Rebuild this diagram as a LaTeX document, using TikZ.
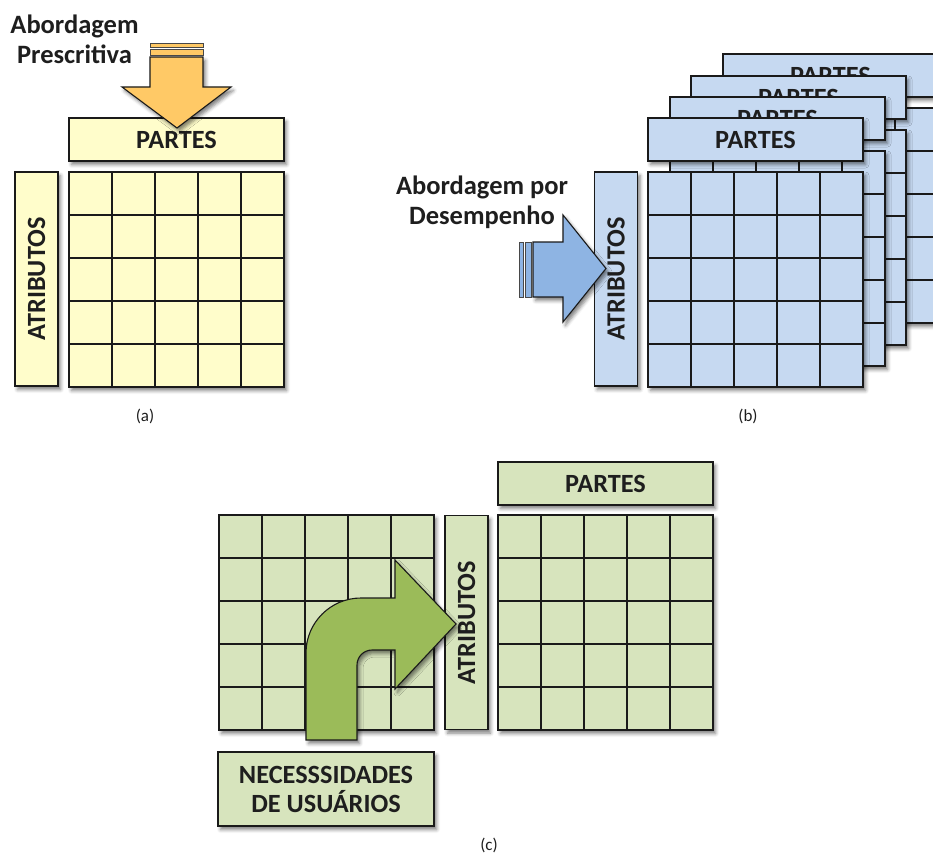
\documentclass[tikz,border=0pt]{standalone}
\usepackage{fontspec}
\setmainfont{Carlito}
\usetikzlibrary{shadows.blur}

\definecolor{edge}{HTML}{1A1A1A}
\definecolor{ink}{HTML}{1E1E1E}
\definecolor{ylw}{HTML}{FFFDCB}
\definecolor{ylwarrow}{HTML}{FFC966}
\definecolor{blu}{HTML}{C6D9F1}
\definecolor{bluarrow}{HTML}{8EB4E3}
\definecolor{grn}{HTML}{D7E4BD}
\definecolor{grnarrow}{HTML}{9BBB59}

\tikzset{
  softshadow/.style={blur shadow={shadow xshift=2.5pt, shadow yshift=-3.5pt,
      shadow blur radius=3.5pt, shadow opacity=50}},
  labelbox/.style={draw=edge, line width=1.6pt, softshadow, text=ink, inner sep=0pt,
      font=\bfseries\fontsize{26.3}{29}\selectfont},
  headbox/.style={labelbox, minimum width=215pt, minimum height=43pt},
  attrbox/.style={labelbox, rotate=90, minimum width=214pt, minimum height=43pt},
  tableline/.style={draw=edge, line width=1.6pt},
  arrowbody/.style={draw=edge, line width=1.1pt, softshadow, line join=miter},
  tailband/.style={draw=edge!80, line width=0.9pt},
  headline/.style={text=ink, align=center, font=\bfseries\fontsize{26.5}{30}\selectfont},
  partlabel/.style={text=ink, font=\fontsize{17}{20}\selectfont}
}

% 5 x 5 table of 43pt cells, top-left corner at (#1,#2), filled with #3
\newcommand\cellgrid[3]{%
  \fill[#3, softshadow] (#1,#2) rectangle ++(215,215);
  \foreach \k in {1,...,4}{%
    \draw[tableline] ({#1+43*\k},#2) -- ++(0,215);
    \draw[tableline] (#1,{#2+43*\k}) -- ++(215,0);
  }
  \draw[tableline] (#1,#2) rectangle ++(215,215);
}

\begin{document}
\begin{tikzpicture}[x=1pt, y=-1pt]
\useasboundingbox (0,0) rectangle (933,853);
\clip (0,0) rectangle (933,853);

% ---------------- (a) prescriptive approach ----------------
\node[headbox, fill=ylw] (partesA) at (176.5,139.5) {PARTES};
\cellgrid{69}{172}{ylw}
\node[attrbox, fill=ylw] (atribA) at (36.5,279) {ATRIBUTOS};

\fill[ylwarrow, tailband] (150,43) rectangle (203,47);
\fill[ylwarrow, tailband] (150,49) rectangle (203,55);
\path[fill=ylwarrow, arrowbody]
  (150,57) -- (203,57) -- (203,87) -- (231,87) -- (177,128) -- (122,87) -- (150,87) -- cycle;

\node[headline] (abordA) at (74.5,39) {Abordagem\\Prescritiva};
\node[partlabel] (capA) at (145,416) {(a)};

% ---------------- (b) performance approach ----------------
\foreach \L/\T in {723/54, 691/76, 670/97} {
  \cellgrid{\L}{\T+54}{blu}
  \node[headbox, fill=blu] at ({\L+107.5},{\T+21.5}) {PARTES};
}
\cellgrid{648}{172}{blu}
\node[headbox, fill=blu] (partesB) at (755.5,139.5) {PARTES};
\node[attrbox, fill=blu] (atribB) at (616,279) {ATRIBUTOS};

\fill[bluarrow, tailband] (519,242) rectangle (523,297);
\fill[bluarrow, tailband] (525,242) rectangle (531,297);
\path[fill=bluarrow, arrowbody]
  (533,242) -- (563,242) -- (563,215) -- (606,268.5) -- (563,322) -- (563,297) -- (533,297) -- cycle;

\node[headline] (abordB) at (482,202) {Abordagem por\\Desempenho};
\node[partlabel] (capB) at (748,416) {(b)};

% ---------------- (c) user needs ----------------
\cellgrid{219}{515}{grn}
\node[attrbox, fill=grn] (atribC) at (466.5,622.5) {ATRIBUTOS};
\cellgrid{498}{515}{grn}
\node[headbox, fill=grn] (partesC) at (605.5,483.5) {PARTES};
\node[labelbox, fill=grn, minimum width=216pt, minimum height=74pt, align=center]
  (necC) at (326,789) {NECESSSIDADES\\DE USUÁRIOS};

\path[fill=grnarrow, arrowbody]
  (306,740) -- (306,653) arc[start angle=180, end angle=270, radius=55]
  -- (395,598) -- (395,560) -- (456,624) -- (395,689) -- (395,650)
  -- (372,650) arc[start angle=270, end angle=180, radius=15]
  -- (357,740) -- cycle;

\node[partlabel] (capC) at (489,845) {(c)};
\end{tikzpicture}
\end{document}
